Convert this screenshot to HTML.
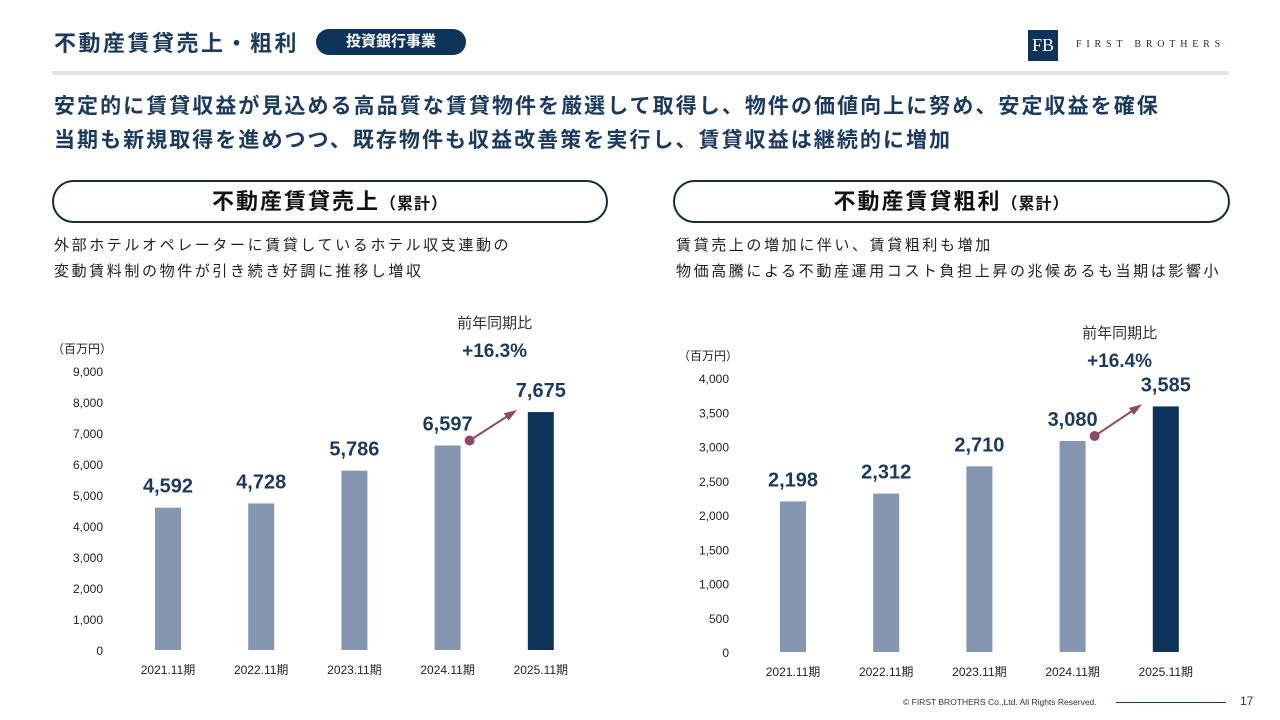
<!DOCTYPE html>
<html><head><meta charset="utf-8"><style>
body{margin:0;width:1280px;height:720px;background:#fff;font-family:"Liberation Sans","Noto Sans CJK JP",sans-serif;color:#1b3a5c;position:relative;overflow:hidden}
.abs{position:absolute}
.pill{border:2px solid #1b2a3a;border-radius:22px;height:43px;box-sizing:border-box;text-align:center;font-weight:bold;font-size:22px;letter-spacing:2px;line-height:39px;color:#111}
.pill small{font-size:16px;letter-spacing:1px}
.sub{font-size:15px;letter-spacing:2.6px;line-height:26px;color:#222}
</style></head><body>
<div class="abs" style="left:54px;top:26px;font-size:22px;letter-spacing:2.5px;font-weight:bold">不動産賃貸売上・粗利</div>
<div class="abs" style="left:316px;top:29px;width:150px;height:26px;border-radius:13px;background:#0d3358;color:#fff;font-size:15px;font-weight:bold;text-align:center;line-height:26px">投資銀行事業</div>
<div class="abs" style="left:1028px;top:30px;width:30px;height:31px;background:#0d3358;color:#fff;font-family:'Liberation Serif',serif;font-size:18px;text-align:center;line-height:31px">FB</div>
<div class="abs" style="left:1076px;top:39px;font-family:'Liberation Serif',serif;font-size:10px;letter-spacing:4.8px;color:#1b2a3a">FIRST BROTHERS</div>
<div class="abs" style="left:52px;top:71px;width:1177px;height:4px;background:#e3e3e3;border-radius:2px"></div>
<div class="abs" style="left:54px;top:90px;font-size:21px;letter-spacing:2.05px;font-weight:bold;line-height:34px">安定的に賃貸収益が見込める高品質な賃貸物件を厳選して取得し、物件の価値向上に努め、安定収益を確保<br>当期も新規取得を進めつつ、既存物件も収益改善策を実行し、賃貸収益は継続的に増加</div>
<div class="abs pill" style="left:52px;top:180px;width:556px">不動産賃貸売上<small>（累計）</small></div>
<div class="abs pill" style="left:673px;top:180px;width:557px">不動産賃貸粗利<small>（累計）</small></div>
<div class="abs sub" style="left:54px;top:233px">外部ホテルオペレーターに賃貸しているホテル収支連動の<br>変動賃料制の物件が引き続き好調に推移し増収</div>
<div class="abs sub" style="left:676px;top:233px">賃貸売上の増加に伴い、賃貸粗利も増加<br>物価高騰による不動産運用コスト負担上昇の兆候あるも当期は影響小</div>
<svg class="abs" style="left:0;top:0" width="1280" height="720" id="svg"></svg>
<div class="abs" style="left:903px;top:697px;font-size:8.5px;color:#333">© FIRST BROTHERS Co.,Ltd. All Rights Reserved.</div>
<div class="abs" style="left:1116px;top:702px;width:110px;height:1px;background:#1b3a5c"></div>
<div class="abs" style="left:1240px;top:694px;font-size:12px;color:#333">17</div>
<script>
const categories=["2021.11期","2022.11期","2023.11期","2024.11期","2025.11期"];
const salesValues=[4592,4728,5786,6597,7675];
const salesTicks=[0,1000,2000,3000,4000,5000,6000,7000,8000,9000];
const profitValues=[2198,2312,2710,3080,3585];
const profitTicks=[0,500,1000,1500,2000,2500,3000,3500,4000];
const svg=document.getElementById('svg');
const NS='http://www.w3.org/2000/svg';
function mk(t,a,txt){const e=document.createElementNS(NS,t);for(const k in a)e.setAttribute(k,a[k]);if(txt!==undefined)e.textContent=txt;svg.appendChild(e);return e;}
function chart(p,vals,ticks,yoy){
 const y=v=>p.y0-(v/p.max)*(p.y0-p.y1);
 const x=i=>p.x0+i*p.step;
 let t=mk('text',{x:p.unitX,y:p.y1-18,'font-size':12,fill:'#222'},'（百万円）');
 
 ticks.forEach(v=>{const e=mk('text',{x:p.tickX,y:y(v)+5,'font-size':12,fill:'#222','text-anchor':'end'},v.toLocaleString('en-US'));
  });
 vals.forEach((v,i)=>{const last=i===vals.length-1;
  const r=mk('rect',{x:x(i)-13,y:y(v),width:26,height:p.y0-y(v),fill:last?'#0d3358':'#8496b0'});
  
  const l=mk('text',{x:x(i),y:y(v)-15,'font-size':20,'font-weight':'bold',fill:'#1b3a5c','text-anchor':'middle'},v.toLocaleString('en-US'));
  
  const c=mk('text',{x:x(i),y:p.y0+24,'font-size':12,fill:'#222','text-anchor':'middle'},categories[i]);
  });
 const n=vals.length;
 const ax=x(n-2)+22,ay=y(vals[n-2])-5,bx=x(n-1)-27,by=y(vals[n-1]);
 const ln=mk('line',{x1:ax,y1:ay,x2:bx,y2:by,stroke:'#8b4a66','stroke-width':2});
 
 const ang=Math.atan2(by-ay,bx-ax),L=10;
 mk('polygon',{points:`${bx+4*Math.cos(ang)},${by+4*Math.sin(ang)} ${bx-L*Math.cos(ang-0.45)},${by-L*Math.sin(ang-0.45)} ${bx-L*Math.cos(ang+0.45)},${by-L*Math.sin(ang+0.45)}`,fill:'#8b4a66'});
 mk('circle',{cx:ax,cy:ay,r:5,fill:'#8b4a66'});
 const mx=x(n-2)+47;
 const a=mk('text',{x:mx,y:p.yoyY,'font-size':15,fill:'#333','text-anchor':'middle'},'前年同期比');
 
 const b=mk('text',{x:mx,y:p.yoyY+29,'font-size':19,'font-weight':'bold',fill:'#1b3a5c','text-anchor':'middle'},yoy);
 
}
chart({x0:168,step:93.2,y0:650,y1:371,max:9000,tickX:103,unitX:52,yoyY:328},salesValues,salesTicks,'+16.3%');
chart({x0:793,step:93.2,y0:652,y1:378,max:4000,tickX:729,unitX:678,yoyY:338},profitValues,profitTicks,'+16.4%');
</script>
</body></html>
